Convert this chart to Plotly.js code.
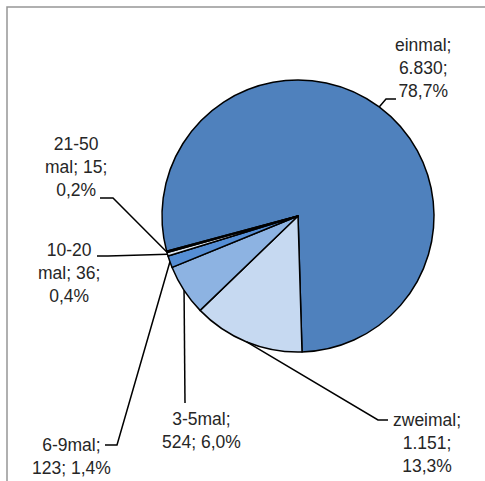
<!DOCTYPE html>
<html>
<head>
<meta charset="utf-8">
<script src="https://cdn.plot.ly/plotly-3.0.1.min.js"></script>
<style>html,body{margin:0;padding:0;background:#fff;}#chart{width:485px;height:481px;}</style>
</head>
<body>
<div id="chart"></div>
<script>
// ---- data ----
var categories = ["einmal", "zweimal", "3-5mal", "6-9mal", "10-20 mal", "21-50 mal"];
var counts = [6830, 1151, 524, 123, 36, 15];
var sliceColors = ["#4f81bd", "#c6d9f1", "#8db3e2", "#558ed5", "#dbe5f1", "#1f497d"];

// ---- layout constants (pixels) ----
var W = 485, H = 481;
var CX = 298, CY = 216, R = 136;
var ROT = 255; // start angle of first slice, clockwise from 12 o'clock

// label layout: center of text block, wrap mode, leader elbow + end points
var labelLayout = [
  {x: 423, y: 68,  wrap: "A", pts: [[386, 99], [396, 99]]},
  {x: 427, y: 443, wrap: "A", pts: [[378, 420], [388, 420]]},
  {x: 201, y: 430, wrap: "B", pts: [[185, 403]]},
  {x: 71,  y: 456, wrap: "B", pts: [[117, 445], [105, 445]]},
  {x: 69,  y: 273, wrap: "C", pts: [[108, 256], [97, 256]]},
  {x: 76,  y: 167, wrap: "C", pts: [[113, 198], [100, 198]]}
];

function px2x(x) { return x / W; }
function px2y(y) { return 1 - y / H; }

var total = counts.reduce(function (a, b) { return a + b; }, 0);
function fmtInt(v) { return String(v).replace(/\B(?=(\d{3})+(?!\d))/g, "."); }
function fmtPct(v) { return (v / total * 100).toFixed(1).replace(".", ",") + "%"; }

function labelText(i, mode) {
  var n = categories[i], v = fmtInt(counts[i]), p = fmtPct(counts[i]);
  if (mode === "A") return n + ";<br>" + v + ";<br>" + p;
  if (mode === "B") return n + ";<br>" + v + "; " + p;
  var parts = n.split(" ");
  return parts[0] + "<br>" + parts[1] + "; " + v + ";<br>" + p;
}

var annotations = [], shapes = [];
var cum = 0;
for (var i = 0; i < counts.length; i++) {
  var mid = ROT + (cum + counts[i] / 2) / total * 360;
  cum += counts[i];
  var a = mid * Math.PI / 180;
  var ex = CX + R * Math.sin(a), ey = CY - R * Math.cos(a);
  var L = labelLayout[i];
  var path = "M" + px2x(ex) + "," + px2y(ey);
  L.pts.forEach(function (p) { path += " L" + px2x(p[0]) + "," + px2y(p[1]); });
  shapes.push({type: "path", xref: "paper", yref: "paper", path: path,
               line: {color: "#000", width: 1.5}});
  annotations.push({xref: "paper", yref: "paper", x: px2x(L.x), y: px2y(L.y),
                    xanchor: "center", yanchor: "middle", showarrow: false, align: "center",
                    text: labelText(i, L.wrap),
                    font: {family: "Liberation Sans, Arial, sans-serif", size: 17.5, color: "#262626"}});
}

// chart frame
shapes.push({type: "rect", xref: "paper", yref: "paper",
             x0: px2x(7), x1: px2x(W + 20), y0: px2y(H + 20), y1: px2y(7),
             line: {color: "#969696", width: 1.5}, fillcolor: "rgba(0,0,0,0)", layer: "below"});

var trace = {
  type: "pie",
  labels: categories,
  values: counts,
  sort: false,
  direction: "clockwise",
  rotation: ROT - 360,
  textinfo: "none",
  hoverinfo: "none",
  marker: {colors: sliceColors, line: {color: "#000", width: 1.5}},
  domain: {x: [px2x(CX - R), px2x(CX + R)], y: [px2y(CY + R), px2y(CY - R)]},
  showlegend: false
};

Plotly.newPlot("chart", [trace], {
  width: W, height: H,
  margin: {l: 0, r: 0, t: 0, b: 0},
  paper_bgcolor: "#fff",
  showlegend: false,
  annotations: annotations,
  shapes: shapes
}, {displayModeBar: false, staticPlot: true});
</script>
</body>
</html>
